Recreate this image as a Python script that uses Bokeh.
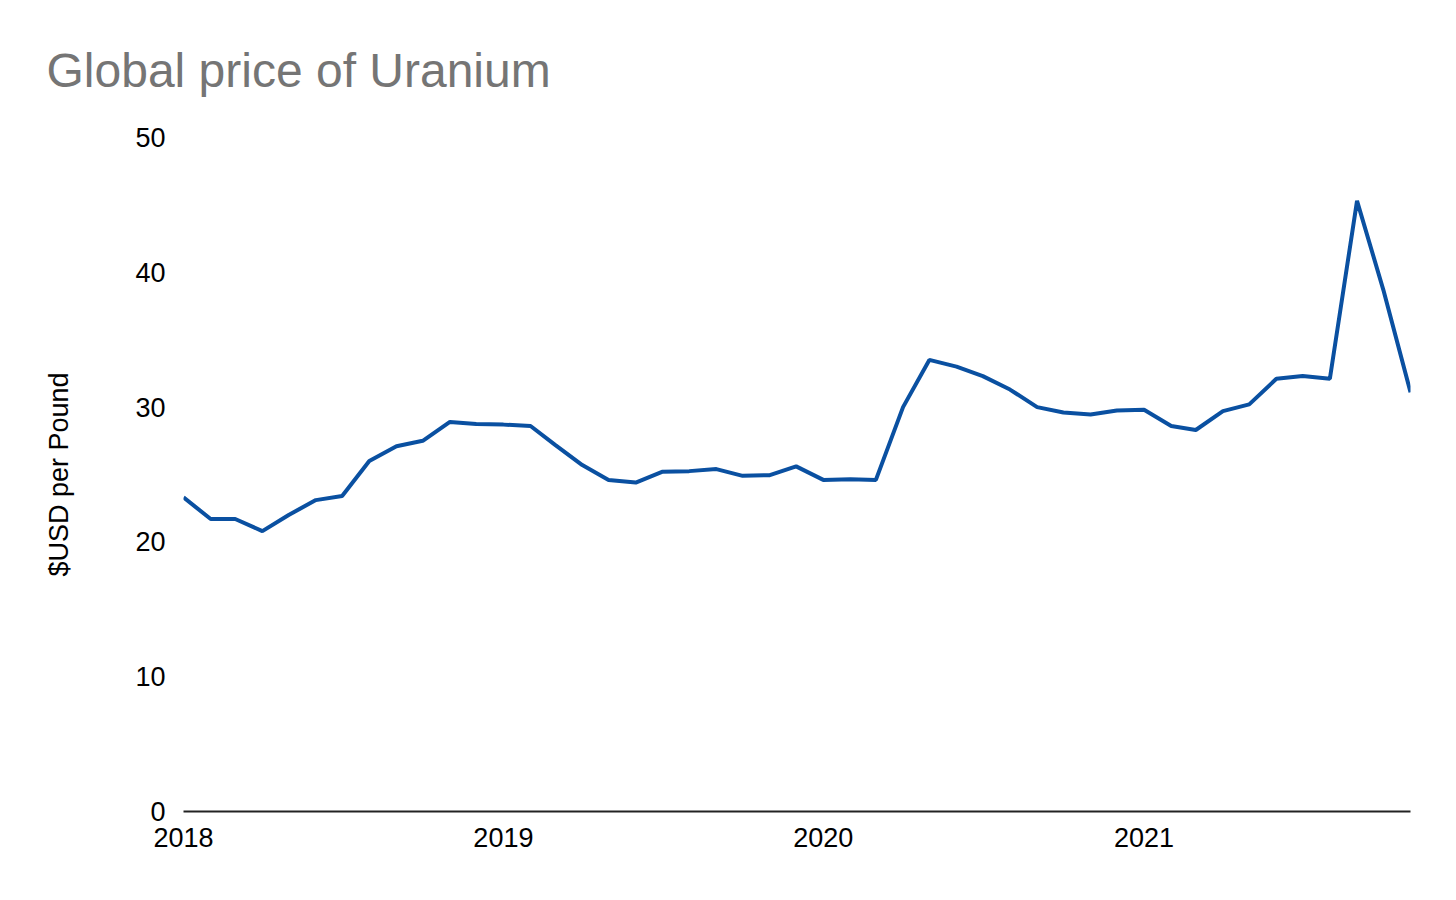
from datetime import datetime
import pandas as pd
from bokeh.plotting import figure
from bokeh.models import Range1d, FixedTicker, DatetimeTickFormatter, ColumnDataSource
from bokeh.embed import file_html
from bokeh.resources import INLINE

# ---- data ----
months = pd.date_range("2018-01-01", "2021-11-01", freq="MS")
prices = [23.3, 21.7, 21.7, 20.8, 22.0, 23.1, 23.4, 26.0, 27.1, 27.5, 28.9, 28.75,
          28.7, 28.6, 27.2, 25.7, 24.6, 24.4, 25.2, 25.25, 25.4, 24.9, 24.95, 25.6,
          24.6, 24.65, 24.6, 30.0, 33.5, 33.0, 32.3, 31.3, 30.0, 29.6, 29.45, 29.75,
          29.8, 28.6, 28.3, 29.7, 30.2, 32.1, 32.3, 32.1, 45.3, 38.7, 31.1]
year_ticks = ["2018-01-01", "2019-01-01", "2020-01-01", "2021-01-01"]
y_ticks = [0, 10, 20, 30, 40, 50]

title_text = "Global price of Uranium"
y_label = "$USD per Pound"

source = ColumnDataSource(dict(date=months, price=prices))

FONT = "Liberation Sans"

p = figure(width=1440, height=880, x_axis_type="datetime",
           output_backend="svg", toolbar_location=None,
           x_range=Range1d(start=months[0], end=months[-1]),
           y_range=Range1d(start=0, end=50),
           min_border_left=183, min_border_right=30,
           min_border_top=137, min_border_bottom=69)

p.title.text = title_text
p.title.text_font = FONT
p.title.text_font_size = "48px"
p.title.text_font_style = "normal"
p.title.text_color = "#757575"
p.title.align = "left"
p.title.offset = -137
p.title.standoff = 82

p.outline_line_color = None
p.background_fill_color = "white"
p.border_fill_color = "white"
p.xgrid.visible = False
p.ygrid.visible = False

p.line("date", "price", source=source, line_color="#0a50a1", line_width=4)

# y axis
ya = p.yaxis[0]
ya.ticker = FixedTicker(ticks=y_ticks)
ya.axis_line_color = None
ya.major_tick_line_color = None
ya.minor_tick_line_color = None
ya.major_tick_out = 0
ya.major_tick_in = 0
ya.major_label_standoff = 18
ya.major_label_text_font = FONT
ya.major_label_text_font_size = "27px"
ya.major_label_text_color = "black"
ya.axis_label = y_label
ya.axis_label_text_font = FONT
ya.axis_label_text_font_size = "27px"
ya.axis_label_text_font_style = "normal"
ya.axis_label_text_color = "black"
ya.axis_label_standoff = 58

# x axis
xa = p.xaxis[0]
xa.ticker = FixedTicker(ticks=[pd.Timestamp(t).value / 1e6 for t in year_ticks])
xa.formatter = DatetimeTickFormatter(years="%Y", months="%Y", days="%Y", hours="%Y")
xa.axis_line_color = "#222222"
xa.axis_line_width = 2
xa.major_tick_line_color = None
xa.minor_tick_line_color = None
xa.major_tick_out = 0
xa.major_tick_in = 0
xa.major_label_standoff = 16
xa.major_label_text_font = FONT
xa.major_label_text_font_size = "27px"
xa.major_label_text_color = "black"

open("out.html", "w").write(file_html(p, INLINE))
